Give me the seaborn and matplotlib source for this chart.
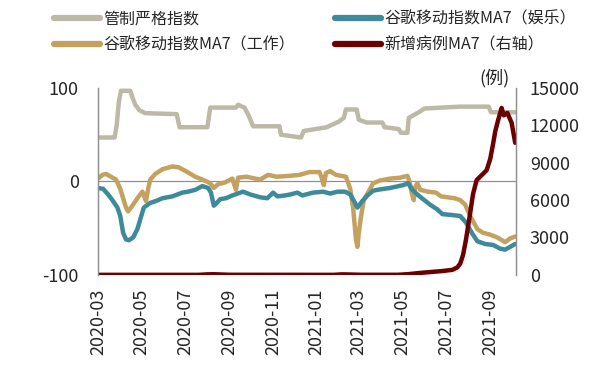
import pandas as pd
import matplotlib
matplotlib.use('Agg')
import matplotlib.pyplot as plt
import matplotlib.dates as mdates
import seaborn as sns

# Data
stringency_dates = ['2020-03-01', '2020-03-24', '2020-03-27', '2020-03-30', '2020-04-02', '2020-04-15',
                    '2020-04-18', '2020-04-22', '2020-04-28', '2020-05-06', '2020-06-19', '2020-06-23',
                    '2020-08-01', '2020-08-05', '2020-09-10', '2020-09-13', '2020-09-22', '2020-09-28',
                    '2020-10-04', '2020-11-10', '2020-11-12', '2020-12-10', '2020-12-14', '2021-01-15',
                    '2021-02-01', '2021-02-08', '2021-02-11', '2021-02-26', '2021-03-01', '2021-03-12',
                    '2021-04-03', '2021-04-06', '2021-04-26', '2021-04-29', '2021-05-08', '2021-05-10',
                    '2021-05-24', '2021-06-01', '2021-07-20', '2021-08-30', '2021-09-02', '2021-10-06']
stringency = [47, 47, 60, 85, 97, 97, 90, 82, 76, 73, 72, 58, 58, 79, 79, 82, 79, 70, 59, 59, 50, 47, 54,
              58, 64, 68, 77, 77, 66, 63, 63, 58, 56, 52, 52, 68, 74, 78, 80, 80, 74, 74]

fun_dates = ['2020-03-01', '2020-03-08', '2020-03-15', '2020-03-21', '2020-03-28', '2020-04-01', '2020-04-05',
             '2020-04-09', '2020-04-13', '2020-04-19', '2020-04-25', '2020-04-30', '2020-05-04', '2020-05-13',
             '2020-05-21', '2020-05-30', '2020-06-13', '2020-06-27', '2020-07-05', '2020-07-15', '2020-07-25',
             '2020-08-02', '2020-08-06', '2020-08-10', '2020-08-13', '2020-08-19', '2020-08-27', '2020-09-05',
             '2020-09-20', '2020-09-30', '2020-10-14', '2020-10-24', '2020-11-01', '2020-11-07', '2020-11-18',
             '2020-11-25', '2020-12-05', '2020-12-12', '2020-12-27', '2021-01-10', '2021-01-20', '2021-01-30',
             '2021-02-10', '2021-02-17', '2021-02-23', '2021-02-27', '2021-03-06', '2021-03-13', '2021-03-21',
             '2021-03-27', '2021-04-14', '2021-05-02', '2021-05-09', '2021-05-15', '2021-05-22', '2021-05-30',
             '2021-06-09', '2021-06-19', '2021-06-26', '2021-07-10', '2021-07-21', '2021-07-29', '2021-08-07',
             '2021-08-14', '2021-08-25', '2021-09-05', '2021-09-15', '2021-09-22', '2021-09-29', '2021-10-06']
fun = [-7, -8, -14, -20, -28, -37, -55, -62, -63, -60, -51, -38, -28, -23, -21, -18, -16, -12, -11, -9, -5,
       -7, -12, -26, -24, -19, -18, -15, -11, -14, -17, -18, -12, -16, -15, -14, -12, -15, -12, -11, -13, -11,
       -11, -14, -22, -28, -21, -15, -10, -9, -7, -4, -2, -9, -14, -19, -25, -30, -35, -36, -37, -44, -56,
       -64, -67, -68, -72, -73, -70, -67]

work_dates = ['2020-03-01', '2020-03-07', '2020-03-12', '2020-03-19', '2020-03-26', '2020-04-01', '2020-04-05',
              '2020-04-09', '2020-04-12', '2020-04-17', '2020-04-26', '2020-05-02', '2020-05-04', '2020-05-07',
              '2020-05-10', '2020-05-13', '2020-05-20', '2020-05-30', '2020-06-13', '2020-06-22', '2020-07-04',
              '2020-07-15', '2020-07-25', '2020-08-05', '2020-08-10', '2020-08-16', '2020-08-26', '2020-09-05',
              '2020-09-07', '2020-09-10', '2020-09-13', '2020-09-25', '2020-10-07', '2020-10-14', '2020-10-25',
              '2020-11-06', '2020-11-25', '2020-12-08', '2020-12-22', '2021-01-05', '2021-01-08', '2021-01-11',
              '2021-01-14', '2021-01-20', '2021-01-28', '2021-02-11', '2021-02-17', '2021-02-21', '2021-02-25',
              '2021-02-27', '2021-03-01', '2021-03-04', '2021-03-08', '2021-03-14', '2021-03-21', '2021-03-31',
              '2021-04-14', '2021-04-28', '2021-05-08', '2021-05-11', '2021-05-14', '2021-05-17', '2021-05-19',
              '2021-05-22', '2021-05-26', '2021-06-06', '2021-06-17', '2021-06-24', '2021-07-13', '2021-07-21',
              '2021-07-28', '2021-08-04', '2021-08-14', '2021-08-22', '2021-09-01', '2021-09-11', '2021-09-22',
              '2021-09-29', '2021-10-06']
work = [3, 7, 8, 5, 2, -8, -18, -28, -32, -27, -17, -11, -15, -21, -8, 2, 8, 13, 16, 15, 10, 5, 2, -2, -7,
        -3, -1, 3, -2, -9, 4, 5, 3, 2, 7, 5, 6, 7, 10, 10, 4, -4, 9, 11, 7, 5, -8, -28, -62, -70, -55, -38,
        -20, -12, -2, 1, 3, 4, 6, 0, -12, -20, -6, -2, -9, -11, -12, -16, -18, -20, -25, -37, -51, -55, -57,
        -60, -65, -61, -59]

case_dates = ['2020-03-01', '2020-07-20', '2020-08-01', '2020-08-10', '2020-09-01', '2021-01-25', '2021-02-05',
              '2021-02-15', '2021-03-05', '2021-04-25', '2021-05-10', '2021-05-25', '2021-06-10', '2021-06-25',
              '2021-07-10', '2021-07-17', '2021-07-21', '2021-07-25', '2021-07-29', '2021-08-03', '2021-08-08',
              '2021-08-13', '2021-08-20', '2021-08-27', '2021-09-01', '2021-09-05', '2021-09-08', '2021-09-12',
              '2021-09-17', '2021-09-20', '2021-09-25', '2021-10-01', '2021-10-06']
cases = [0, 0, 40, 50, 5, 0, 40, 30, 5, 5, 60, 150, 230, 300, 400, 600, 900, 1600, 2800, 4600, 6500, 7600,
         8000, 8400, 9300, 10500, 11500, 12400, 13400, 12800, 13000, 12200, 10600]

labels = ['管制严格指数', '谷歌移动指数MA7（工作）', '谷歌移动指数MA7（娱乐）', '新增病例MA7（右轴）']
colors = ['#bcb9a6', '#c4a15f', '#3d8a9b', '#6b0000']

df_s = pd.DataFrame({'date': pd.to_datetime(stringency_dates), 'value': stringency})
df_w = pd.DataFrame({'date': pd.to_datetime(work_dates), 'value': work})
df_f = pd.DataFrame({'date': pd.to_datetime(fun_dates), 'value': fun})
df_c = pd.DataFrame({'date': pd.to_datetime(case_dates), 'value': cases})

sns.set_theme(style='white')
plt.rcParams['font.family'] = ['Noto Sans CJK SC', 'DejaVu Sans']
plt.rcParams['axes.unicode_minus'] = False

fig = plt.figure(figsize=(6.02, 3.65), dpi=100)
ax = fig.add_axes([0.163, 0.247, 0.694, 0.512])
ax2 = ax.twinx()

lw = 3.2
ax.axhline(0, color='#909090', lw=0.9, zorder=0)
sns.lineplot(data=df_s, x='date', y='value', ax=ax, color=colors[0], lw=lw, label=labels[0], legend=False)
sns.lineplot(data=df_w, x='date', y='value', ax=ax, color=colors[1], lw=lw, label=labels[1], legend=False)
sns.lineplot(data=df_f, x='date', y='value', ax=ax, color=colors[2], lw=lw, label=labels[2], legend=False)
sns.lineplot(data=df_c, x='date', y='value', ax=ax2, color=colors[3], lw=lw, label=labels[3], legend=False)

ax.set_ylim(-100, 100)
ax.set_yticks([-100, 0, 100])
ax2.set_ylim(0, 15000)
ax2.set_yticks([0, 3000, 6000, 9000, 12000, 15000])
ax.set_xlim(pd.Timestamp('2020-03-01'), pd.Timestamp('2021-10-07'))
ax.xaxis.set_major_locator(mdates.MonthLocator(bymonth=[1, 3, 5, 7, 9, 11]))
ax.xaxis.set_major_formatter(mdates.DateFormatter('%Y-%m'))
ax.set_xlabel('')
ax.set_ylabel('')
ax2.set_ylabel('')

for a in (ax, ax2):
    for s in ['top', 'bottom']:
        a.spines[s].set_visible(False)
    for s in ['left', 'right']:
        a.spines[s].set_color('#909090')
        a.spines[s].set_linewidth(0.9)
ax.tick_params(axis='y', length=0, pad=14, labelsize=13)
ax2.tick_params(axis='y', length=0, pad=10, labelsize=13)
ax.tick_params(axis='x', length=0, pad=10, labelsize=13, labelrotation=90)

ax2.text(0.985, 1.0, '(例)', transform=ax2.transAxes, ha='right', va='bottom', fontsize=13)

handles = ax.get_lines()[1:] + ax2.get_lines()
leg = fig.legend(handles=handles, labels=labels, loc='upper left', bbox_to_anchor=(0.066, 1.01), ncol=2,
                 frameon=False, fontsize=11.5, handlelength=2.9, columnspacing=2.5, labelspacing=0.55,
                 handletextpad=0.2)
for h in leg.get_lines():
    h.set_linewidth(4.5)
    h.set_solid_capstyle('round')

fig.savefig('out.png', dpi=100)
